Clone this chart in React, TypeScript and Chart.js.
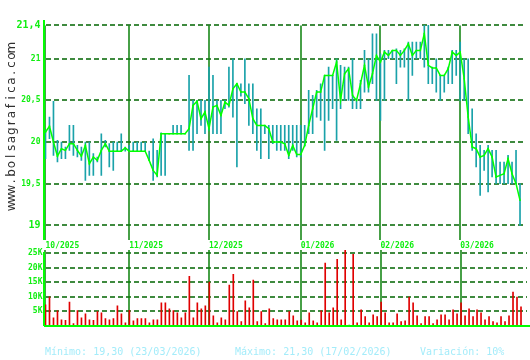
import React, { useEffect, useRef } from "react";
import { Chart, registerables } from "chart.js";

Chart.register(...registerables);

const monthIndex = [0, 21, 41, 64, 84, 104];
const monthLabels = ["10/2025", "11/2025", "12/2025", "01/2026", "02/2026", "03/2026"];

const priceTicks = [19, 19.5, 20, 20.5, 21, 21.4];
const priceTickLabels = ["19", "19,5", "20", "20,5", "21", "21,4"];

const volumeTicks = [5000, 10000, 15000, 20000, 25000];
const volumeTickLabels = ["5K", "10K", "15K", "20K", "25K"];

const closes = [
  20.12, 20.19, 20.0, 19.83, 19.92, 19.9, 19.98, 19.98, 19.9, 19.83,
  19.96, 19.74, 19.82, 19.78, 19.9, 19.98, 19.89, 19.89, 19.89, 19.89,
  19.93, 19.89, 19.89, 19.89, 19.89, 19.89, 19.78, 19.66, 19.6, 20.1,
  20.1, 20.1, 20.1, 20.1, 20.1, 20.1, 20.16, 20.44, 20.49, 20.28,
  20.36, 20.16, 20.42, 20.44, 20.32, 20.48, 20.44, 20.64, 20.7, 20.6,
  20.6, 20.52, 20.28, 20.2, 20.2, 20.2, 20.16, 20.0, 20.0, 20.0,
  19.98, 19.84, 19.96, 19.85, 19.85, 19.96, 20.2, 20.4, 20.6, 20.6,
  20.8, 20.8, 20.8, 20.96, 20.5, 20.82, 20.88, 20.56, 20.5, 20.7,
  20.92, 20.66, 20.82, 21.04, 20.96, 21.08, 21.04, 21.1, 21.1, 21.04,
  21.1, 21.18, 21.04, 21.1, 21.1, 21.3, 20.92, 20.89, 20.89, 20.8,
  20.8, 20.88, 21.08, 21.04, 21.08, 20.76, 20.3, 19.94, 19.92, 19.82,
  19.84, 19.92, 19.82, 19.58, 19.6, 19.62, 19.8, 19.62, 19.5, 19.3,
];

const highs = [
  20.14, 20.3, 20.49, 20.02, 20.0, 19.94, 20.2, 20.2, 19.96, 19.94,
  20.0, 20.0, 19.86, 19.82, 20.1, 20.02, 19.98, 20.0, 20.0, 20.1,
  19.94, 19.96, 20.0, 20.0, 20.0, 20.0, 19.89, 20.04, 19.9, 20.11,
  20.1, 20.1, 20.2, 20.2, 20.2, 20.1, 20.8, 20.5, 20.5, 20.5,
  20.5, 20.9, 20.8, 20.5, 20.5, 20.5, 20.9, 21.0, 20.7, 20.7,
  21.0, 20.7, 20.7, 20.4, 20.4, 20.2, 20.2, 20.2, 20.2, 20.2,
  20.2, 20.2, 20.2, 20.2, 20.2, 20.2, 20.62, 20.56, 20.62, 20.7,
  20.8, 20.9, 20.8, 21.0, 20.92, 20.9, 20.9, 21.0, 20.5, 20.74,
  21.1, 21.0, 21.3, 21.3, 21.06, 21.1, 21.1, 21.1, 21.12, 21.1,
  21.12, 21.2, 21.2, 21.2, 21.2, 21.4, 21.4, 20.9, 21.0, 20.8,
  20.8, 20.9, 21.1, 21.1, 21.2, 21.0, 21.0, 20.4, 20.1, 19.96,
  19.9, 19.96, 19.9, 19.9, 19.76, 19.76, 19.84, 19.76, 19.9, 19.5,
];

const lows = [
  19.8, 20.04, 19.84, 19.76, 19.8, 19.8, 19.9, 19.84, 19.82, 19.78,
  19.54, 19.6, 19.6, 19.76, 19.6, 19.94, 19.7, 19.66, 19.89, 19.89,
  19.89, 19.89, 19.89, 19.89, 19.89, 19.89, 19.78, 19.54, 19.58, 19.6,
  19.6, 20.1, 20.1, 20.1, 20.1, 20.1, 19.9, 19.9, 20.1, 20.2,
  20.1, 20.14, 20.1, 20.1, 20.1, 20.4, 20.42, 20.3, 19.7, 20.55,
  20.46, 20.2, 20.1, 19.9, 19.8, 20.1, 19.8, 19.98, 19.9, 19.9,
  19.9, 19.8, 19.9, 19.82, 19.82, 19.95, 20.1, 20.1, 20.3, 20.26,
  19.9, 20.26, 20.4, 20.02, 20.4, 20.5, 20.5, 20.4, 20.4, 20.4,
  20.6, 20.6, 20.7, 20.5, 20.26, 20.5, 21.0, 21.0, 20.7, 20.9,
  20.9, 20.5, 20.8, 21.0, 21.0, 20.9, 20.7, 20.7, 20.6, 20.5,
  20.6, 20.7, 20.7, 20.8, 20.5, 20.5, 20.1, 19.9, 19.7, 19.36,
  19.66, 19.4, 19.58, 19.5, 19.5, 19.5, 19.5, 19.5, 19.5, 19.0,
];

const volumes = [
  7200, 10000, 2800, 5200, 2100, 1900, 8200, 800, 5300, 2800,
  4200, 2100, 1900, 4900, 4500, 2500, 2100, 2500, 6900, 4200,
  1100, 5400, 1800, 2500, 2500, 2500, 1100, 2100, 2100, 7900,
  7900, 5900, 5300, 4500, 2800, 4500, 17000, 2800, 7900, 5900,
  6900, 15000, 3500, 1100, 2800, 2100, 14000, 17700, 4900, 1500,
  8600, 6200, 15700, 1500, 4900, 800, 5900, 2500, 2100, 2100,
  2100, 4900, 3500, 1800, 2000, 1100, 4500, 1800, 1100, 5200,
  21500, 4500, 6200, 22800, 2100, 25900, 300, 24500, 1100, 5500,
  3200, 1100, 3800, 3200, 8200, 4500, 1100, 1100, 4200, 1500,
  1800, 9900, 7900, 3500, 800, 3200, 3200, 800, 2100, 3800,
  3800, 2100, 5500, 4200, 7900, 3500, 5900, 3200, 5500, 4500,
  2100, 3200, 1500, 1100, 3200, 1500, 3500, 11600, 9900, 6600,
];

const watermark = "www.bolsagrafica.com";
const footerTexts = ["Mínimo: 19,30 (23/03/2026)", "Máximo: 21,30 (17/02/2026)", "Variación: 10%"];

const LIME = "#00ff00";
const LABEL = "#11ee11";
const GRID = "#006400";
const MONTH = "#0a800a";
const TEAL = "#1aa2aa";
const RED = "#e00000";
const FOOT = "#a4ecfa";
const MONO = "DejaVu Sans Mono";

const W = 530;

function drawDashedGrid(ctx: CanvasRenderingContext2D, chart: any, ticks: number[]) {
  const { chartArea, scales } = chart;
  ctx.save();
  ctx.strokeStyle = GRID;
  ctx.lineWidth = 1.5;
  ctx.setLineDash([5, 3]);
  for (const v of ticks) {
    const y = Math.round(scales.y.getPixelForValue(v));
    ctx.beginPath();
    ctx.moveTo(Math.round(chartArea.left) + 2, y);
    ctx.lineTo(chartArea.right, y);
    ctx.stroke();
  }
  ctx.restore();
}

function drawMonthLines(ctx: CanvasRenderingContext2D, chart: any, yTop: number) {
  const { chartArea, scales } = chart;
  ctx.save();
  ctx.strokeStyle = MONTH;
  ctx.lineWidth = 1.5;
  for (const m of monthIndex) {
    const x = Math.round(scales.x.getPixelForValue(m));
    ctx.beginPath();
    ctx.moveTo(x, yTop);
    ctx.lineTo(x, chartArea.bottom);
    ctx.stroke();
  }
  ctx.restore();
}

const pricePlugin = {
  id: "priceDecor",
  beforeDatasetsDraw(chart: any) {
    const ctx = chart.ctx;
    drawDashedGrid(ctx, chart, priceTicks);
    drawMonthLines(ctx, chart, chart.scales.y.getPixelForValue(priceTicks[priceTicks.length - 1]));
  },
  afterDraw(chart: any) {
    const { ctx, chartArea } = chart;
    ctx.save();
    ctx.strokeStyle = LIME;
    ctx.lineWidth = 2;
    const ax = Math.round(chartArea.left);
    ctx.beginPath();
    ctx.moveTo(ax, chartArea.top);
    ctx.lineTo(ax, chartArea.bottom);
    ctx.stroke();
    ctx.translate(15, 127);
    ctx.rotate(-Math.PI / 2);
    ctx.fillStyle = "#303030";
    ctx.font = "12px 'DejaVu Sans'";
    ctx.textAlign = "center";
    ctx.textBaseline = "alphabetic";
    const step = 8.35;
    const start = -(watermark.length * step) / 2;
    for (let k = 0; k < watermark.length; k++) {
      ctx.fillText(watermark[k], start + step * (k + 0.5), 0);
    }
    ctx.restore();
  },
};

const volumePlugin = {
  id: "volumeDecor",
  beforeDatasetsDraw(chart: any) {
    const ctx = chart.ctx;
    drawDashedGrid(ctx, chart, volumeTicks);
    drawMonthLines(ctx, chart, chart.chartArea.top);
  },
  afterDraw(chart: any) {
    const { ctx, chartArea, scales } = chart;
    ctx.save();
    ctx.strokeStyle = LIME;
    ctx.lineWidth = 2;
    const ax = Math.round(chartArea.left);
    const by = Math.round(chartArea.bottom);
    ctx.beginPath();
    ctx.moveTo(ax, scales.y.getPixelForValue(volumeTicks[volumeTicks.length - 1]) - 1);
    ctx.lineTo(ax, by);
    ctx.stroke();
    ctx.beginPath();
    ctx.moveTo(ax, by);
    ctx.lineTo(W, by);
    ctx.stroke();
    ctx.fillStyle = FOOT;
    ctx.font = `10px '${MONO}'`;
    ctx.textAlign = "left";
    ctx.textBaseline = "middle";
    const xs = [45, 235, 420];
    footerTexts.forEach((t, k) => ctx.fillText(t, xs[k], 112));
    ctx.restore();
  },
};

export default function App() {
  const priceRef = useRef<HTMLCanvasElement | null>(null);
  const volRef = useRef<HTMLCanvasElement | null>(null);

  useEffect(() => {
    const idx = closes.map((_, i) => i);

    const priceChart = new Chart(priceRef.current as HTMLCanvasElement, {
      type: "bar",
      data: {
        datasets: [
          {
            type: "line",
            data: idx.map((i) => ({ x: i, y: closes[i] })),
            borderColor: LIME,
            backgroundColor: LIME,
            borderWidth: 1.5,
            pointRadius: 1,
            pointStyle: "rect",
            pointBorderWidth: 0,
            tension: 0,
            order: 0,
          } as any,
          {
            type: "bar",
            data: idx.map((i) => ({ x: i, y: [lows[i], highs[i]] })),
            backgroundColor: TEAL,
            barThickness: 1,
            borderWidth: 0,
            order: 1,
          } as any,
        ],
      },
      options: {
        animation: false,
        responsive: false,
        devicePixelRatio: 1,
        layout: { padding: { top: 20, right: 3, bottom: 0, left: 0 } },
        plugins: { legend: { display: false }, tooltip: { enabled: false } },
        scales: {
          x: {
            type: "linear",
            min: -0.5,
            max: 120.5,
            offset: false,
            grid: { display: false, drawTicks: false },
            border: { display: false },
            afterBuildTicks: (s: any) => {
              s.ticks = monthIndex.map((v) => ({ value: v }));
            },
            afterFit: (s: any) => {
              s.height = 10;
            },
            ticks: {
              autoSkip: false,
              maxRotation: 0,
              align: "start",
              padding: 1,
              color: LABEL,
              font: { family: MONO, size: 8, weight: "bold" },
              callback: (v: any) => monthLabels[monthIndex.indexOf(Number(v))],
            },
          },
          y: {
            min: 18.824,
            max: 21.465,
            grid: { display: false, drawTicks: false },
            border: { display: false },
            afterBuildTicks: (s: any) => {
              s.ticks = priceTicks.map((v) => ({ value: v }));
            },
            afterFit: (s: any) => {
              s.width = 43.5;
            },
            ticks: {
              padding: 3,
              color: LABEL,
              font: (c: any) => {
                const v = c.tick ? c.tick.value : 0;
                const big = v === 21.4 || v === 19;
                return { family: MONO, size: big ? 10 : 8, weight: "bold" };
              },
              callback: (v: any) => priceTickLabels[priceTicks.indexOf(Number(v))],
            },
          },
        },
      } as any,
      plugins: [pricePlugin],
    });

    const volChart = new Chart(volRef.current as HTMLCanvasElement, {
      type: "bar",
      data: {
        datasets: [
          {
            data: idx.map((i) => ({ x: i, y: volumes[i] })),
            backgroundColor: RED,
            barThickness: 1,
            borderWidth: 0,
          } as any,
        ],
      },
      options: {
        animation: false,
        responsive: false,
        devicePixelRatio: 1,
        layout: { padding: { top: 10, right: 3, bottom: 34, left: 0 } },
        plugins: { legend: { display: false }, tooltip: { enabled: false } },
        scales: {
          x: {
            type: "linear",
            min: -0.5,
            max: 120.5,
            offset: false,
            display: false,
          },
          y: {
            min: 0,
            max: 26000,
            grid: { display: false, drawTicks: false },
            border: { display: false },
            afterBuildTicks: (s: any) => {
              s.ticks = volumeTicks.map((v) => ({ value: v }));
            },
            afterFit: (s: any) => {
              s.width = 43.5;
            },
            ticks: {
              padding: 1,
              color: LABEL,
              font: { family: MONO, size: 8, weight: "bold" },
              callback: (v: any) => volumeTickLabels[volumeTicks.indexOf(Number(v))],
            },
          },
        },
      } as any,
      plugins: [volumePlugin],
    });

    return () => {
      priceChart.destroy();
      volChart.destroy();
    };
  }, []);

  return (
    <div style={{ position: "fixed", left: 0, top: 0, width: W, height: 360, background: "#ffffff" }}>
      <canvas ref={priceRef} width={W} height={250} style={{ position: "absolute", left: 0, top: 0 }} />
      <canvas ref={volRef} width={W} height={120} style={{ position: "absolute", left: 0, top: 240 }} />
    </div>
  );
}
